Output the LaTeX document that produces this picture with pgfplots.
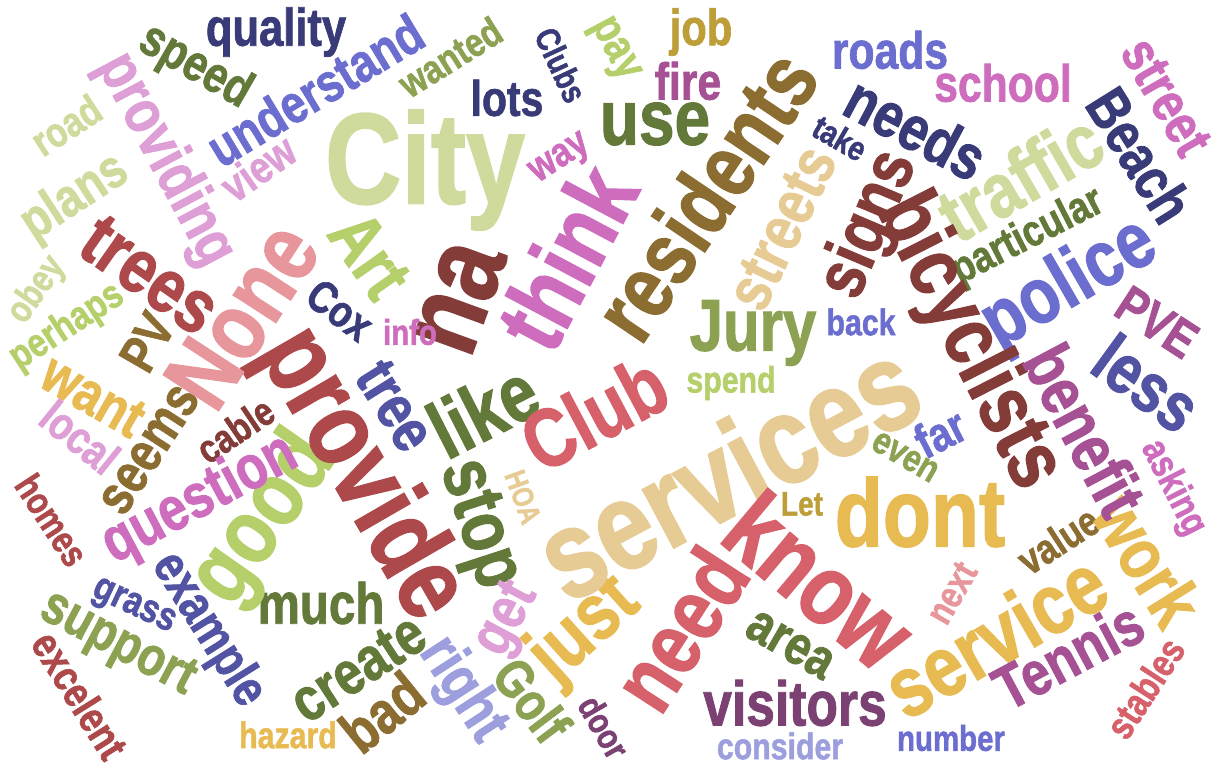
\documentclass[border=0pt]{standalone}
\usepackage{pgfplots}
\pgfplotsset{compat=1.18}
\usepackage{fontspec}
\newfontfamily\cloud[FakeBold=1.5]{Liberation Sans}

\definecolor{c393b79}{HTML}{393B79}
\definecolor{c5254a3}{HTML}{5254A3}
\definecolor{c6b6ecf}{HTML}{6B6ECF}
\definecolor{c9c9ede}{HTML}{9C9EDE}
\definecolor{c637939}{HTML}{637939}
\definecolor{c8ca252}{HTML}{8CA252}
\definecolor{cb5cf6b}{HTML}{B5CF6B}
\definecolor{ccedb9c}{HTML}{CEDB9C}
\definecolor{c8c6d31}{HTML}{8C6D31}
\definecolor{cbd9e39}{HTML}{BD9E39}
\definecolor{ce7ba52}{HTML}{E7BA52}
\definecolor{ce7cb94}{HTML}{E7CB94}
\definecolor{c843c39}{HTML}{843C39}
\definecolor{cad494a}{HTML}{AD494A}
\definecolor{cd6616b}{HTML}{D6616B}
\definecolor{ce7969c}{HTML}{E7969C}
\definecolor{c7b4173}{HTML}{7B4173}
\definecolor{ca55194}{HTML}{A55194}
\definecolor{cce6dbd}{HTML}{CE6DBD}
\definecolor{cde9ed6}{HTML}{DE9ED6}

% x, y in pixels from the bottom left, ang in degrees, sz in pt
\pgfplotsset{
  words/.style={
    only marks, mark=none,
    point meta=explicit symbolic,
    visualization depends on={\thisrow{ang} \as \wang},
    visualization depends on={\thisrow{sz} \as \wsz},
    nodes near coords={\pgfplotspointmeta},
    every node near coord/.append style={
      anchor=center, inner sep=0pt, text=#1,
      font=\cloud\bfseries\fontsize{10}{12}\selectfont,
      rotate=\wang, scale=\wsz/10, xscale=0.82,
    },
  },
}

\begin{document}
\begin{tikzpicture}
\begin{axis}[
    scale only axis,
    width=12.2cm, height=7.67cm,
    xmin=0, xmax=1220, ymin=0, ymax=767,
    hide axis, clip=false,
]
\addplot[words=c393b79] table[meta=word] {
x    y   ang  sz   word
276  735   0  15.1 quality
561  702 -65   9.7 Clubs
507  669   0  14.2 lots
916  639 -28  17.9 needs
840  629 -30   9.7 take
1140 612 -58  16.8 Beach
340  457 -37  12.8 Cox
};
\addplot[words=c5254a3] table[meta=word] {
x    y   ang  sz   word
1147 384 -36  19.9 less
133  159 -25  11.4 grass
208  137 -58  14.8 example
395  361 -58  17.6 tree
};
\addplot[words=c6b6ecf] table[meta=word] {
x    y   ang  sz   word
315  677  31  15.4 understand
890  717   0  14.8 roads
1070 482  30  22.5 police
940  334  27  13.7 far
861  445   0  10.5 back
951   29   0  10.2 number
};
\addplot[words=c9c9ede] table[meta=word] {
x    y   ang  sz   word
462   77 -57  17.4 right
780   21   0  10.5 consider
};
\addplot[words=c637939] table[meta=word] {
x    y   ang  sz   word
195  700 -30  14.5 speed
655  643   0  22.2 use
1028 530  27  12.5 particular
321  164   0  16.5 much
483  357  27  23.0 like
477  242 -72  21.5 stop
358   99  33  17.4 create
790  122 -30  15.6 area
};
\addplot[words=c8ca252] table[meta=word] {
x    y   ang  sz   word
450  710  32  11.4 wanted
905  310 -30  10.8 even
753  434   0  20.8 Jury
117  122 -28  15.6 support
532   67 -53  15.4 Golf
};
\addplot[words=cb5cf6b] table[meta=word] {
x    y   ang  sz   word
613  717 -62  13.1 pay
731  384   0  10.5 spend
370  512 -55  20.5 Art
67   440  33  11.4 perhaps
265  247  55  26.2 good
};
\addplot[words=ccedb9c] table[meta=word] {
x    y   ang  sz   word
66   642  33  11.9 road
75   569  33  15.4 plans
425  597   0  36.7 City
1020 590  30  21.9 traffic
37   477  55  10.8 obey
};
\addplot[words=c8c6d31] table[meta=word] {
x    y   ang  sz   word
705  572  56  25.3 residents
147  425  60  14.8 PV
150  317  57  15.9 seems
382   55  39  17.1 bad
1058 227  33  11.9 value
};
\addplot[words=cbd9e39] table[meta=word] {
x    y   ang  sz   word
701  735   0  14.5 job
802  263   0   9.7 Let
};
\addplot[words=ce7ba52] table[meta=word] {
x    y   ang  sz   word
920  255   0  27.3 dont
93   371 -30  16.5 want
585  137  42  22.8 just
288   32   0  10.5 hazard
995  132  30  24.2 service
1148 207 -58  20.5 work
};
\addplot[words=ce7cb94] table[meta=word] {
x    y   ang  sz   word
782  539  64  18.2 streets
727  298  28  35.6 services
523  270 -70   8.5 HOA
};
\addplot[words=c843c39] table[meta=word] {
x    y   ang  sz   word
870  542  67  20.2 signs
968  425 -63  24.2 bicyclists
460  469  70  32.7 na
235  337  34  11.4 cable
};
\addplot[words=cad494a] table[meta=word] {
x    y   ang  sz   word
150  492 -35  21.6 trees
52   247 -57  10.8 homes
80    72 -58  12.2 excelent
360  292 -60  30.4 provide
};
\addplot[words=cd6616b] table[meta=word] {
x    y   ang  sz   word
594  354  28  23.6 Club
680  138  57  25.3 need
820  187 -40  28.5 know
1145  79  57  11.1 stables
};
\addplot[words=ce7969c] table[meta=word] {
x    y   ang  sz   word
242  452  57  27.3 None
952  174  60  10.8 next
};
\addplot[words=c7b4173] table[meta=word] {
x    y   ang  sz   word
795   64   0  17.9 visitors
604   40 -60  10.2 door
};
\addplot[words=ca55194] table[meta=word] {
x    y   ang  sz   word
688  686   0  14.8 fire
1157 445 -33  14.8 PVE
1085 337 -62  19.3 benefit
1068 112  28  17.6 Tennis
};
\addplot[words=cce6dbd] table[meta=word] {
x    y   ang  sz   word
561  607  33  11.7 way
1003 684   0  14.8 school
1166 670 -60  15.9 street
1173 279 -63  11.1 asking
566  510  62  27.5 think
200  267  28  17.6 question
410  435   0  10.2 info
};
\addplot[words=cde9ed6] table[meta=word] {
x    y   ang  sz   word
165  607 -62  17.6 providing
258  599  35  12.8 view
80   330 -39  13.1 local
508  147  62  17.1 get
};
\end{axis}
\pgfresetboundingbox
\path (0,0) rectangle (12.2cm,7.67cm);
\end{tikzpicture}
\end{document}
